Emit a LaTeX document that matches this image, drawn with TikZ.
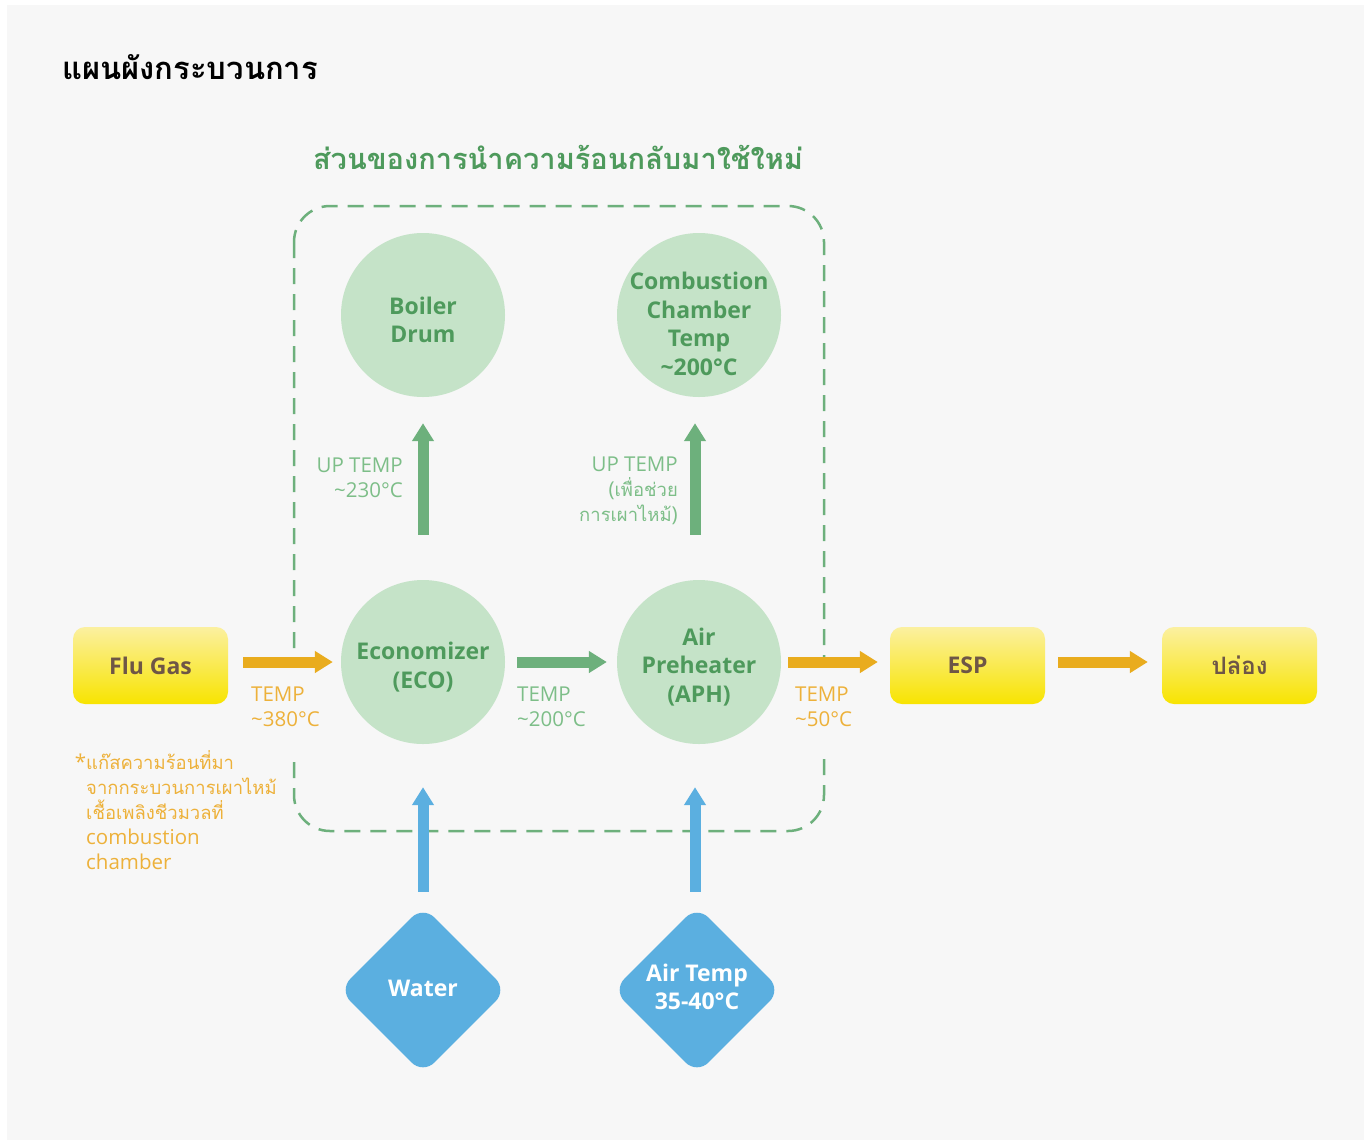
\documentclass[tikz,border=0pt]{standalone}
\usepackage{fontspec}
\setmainfont{Open Sans}
\newfontfamily\thaifont[Script=Thai]{Loma}
\newfontfamily\thaismall[Script=Thai,Scale=0.9]{Loma}
\usetikzlibrary{shapes.geometric,arrows.meta}
\definecolor{bg}{HTML}{F7F7F7}
\definecolor{gtext}{HTML}{4E9A5C}
\definecolor{glight}{HTML}{7DBE88}
\definecolor{circfill}{HTML}{C5E3C8}
\definecolor{garrow}{HTML}{6DB07C}
\definecolor{oarrowc}{HTML}{E9AC1E}
\definecolor{otext}{HTML}{EDB13A}
\definecolor{ytop}{HTML}{FBF0A0}
\definecolor{ybot}{HTML}{F8E400}
\definecolor{brownt}{HTML}{6E5646}
\definecolor{bluec}{HTML}{5BAFE0}
\begin{document}
\begin{tikzpicture}[x=1pt,y=-1pt,
  circ/.style={circle, fill=circfill, minimum size=164pt, inner sep=0pt},
  ctext/.style={text=gtext, font=\fontsize{23}{28.5}\selectfont\bfseries, align=center, inner sep=0pt},
  ybox/.style={rectangle, rounded corners=12pt, minimum width=155pt, minimum height=77pt, top color=ytop, bottom color=ybot, draw=none, text=brownt, font=\fontsize{23}{28}\selectfont\bfseries},
  dia/.style={diamond, aspect=1, fill=bluec, minimum width=168pt, minimum height=168pt, inner sep=0pt, rounded corners=16pt},
  dtext/.style={text=white, font=\fontsize{23}{28}\selectfont\bfseries, align=center, inner sep=0pt},
  thickarrow/.style={line width=11pt, -{Triangle[width=21pt,length=18pt]}},
  oarrow/.style={thickarrow, draw=oarrowc},
  garr/.style={thickarrow, draw=garrow},
  barr/.style={thickarrow, draw=bluec},
  lbl/.style={font=\fontsize{20.5}{25}\selectfont, inner sep=2pt},
  coverlbl/.style={lbl, fill=bg, inner ysep=30pt, align=left, anchor=west},
  dashbox/.style={draw=garrow, line width=2.5pt, dash pattern=on 16pt off 10pt, rounded corners=36pt}
]
\path[use as bounding box, fill=white] (0,0) rectangle (1372,1141);
\fill[bg] (7,5) rectangle (1364,1140);

% titles
\node[anchor=west, inner sep=0pt, font=\fontsize{31}{34}\selectfont\bfseries\thaifont] (title) at (62,67) {แผนผังกระบวนการ};
\node[inner sep=0pt, text=gtext, font=\fontsize{29}{34}\selectfont\bfseries\thaifont] (subtitle) at (558,157) {ส่วนของการนำความร้อนกลับมาใช้ใหม่};

% dashed region
\draw[dashbox] (294,206) rectangle (824,831);

% circles
\node[circ] (boiler) at (423,315) {};
\node[circ] (comb) at (699,315) {};
\node[circ] (eco) at (423,662) {};
\node[circ] (aph) at (699,662) {};
\node[ctext] (boilert) at ([yshift=-5pt]boiler.center) {Boiler\\Drum};
\node[ctext] (combt) at ([yshift=-9pt]comb.center) {Combustion\\Chamber\\Temp\\\textasciitilde200°C};
\node[ctext] (ecot) at ([yshift=-5pt]eco.center) {Economizer\\(ECO)};
\node[ctext] (apht) at ([yshift=-5pt]aph.center) {Air\\Preheater\\(APH)};

% yellow boxes
\node[ybox] (flu) at (150.5,665.5) {Flu Gas};
\node[ybox] (esp) at (967.5,665.5) {ESP};
\node[ybox, font=\fontsize{24}{28}\selectfont\bfseries\thaifont] (stack) at (1239.5,665.5) {ปล่อง};

% diamonds
\node[dia] (water) at (423,990) {};
\node[dia] (air) at (697,990) {};
\node[dtext] (watert) at ([yshift=2pt]water.center) {Water};
\node[dtext] (airt) at ([yshift=3pt]air.center) {Air Temp\\35-40°C};

% labels
\node[lbl, text=glight, align=right, anchor=east] (up1) at (405,478) {UP TEMP\\\textasciitilde230°C};
\node[lbl, text=glight, align=right, anchor=east] (up2) at (680,491) {UP TEMP\\({\thaismall เพื่อช่วย}\\{\thaismall การเผาไหม้})};
\node[coverlbl, text=otext] (t1) at (249,707) {TEMP\\\textasciitilde380°C};
\node[lbl, text=glight, align=left, anchor=west] (t2) at (515,707) {TEMP\\\textasciitilde200°C};
\node[coverlbl, text=otext] (t3) at (793,707) {TEMP\\\textasciitilde50°C};
\node[lbl, text=otext, align=left, anchor=west] (note) at (84,810) {\llap{*}{\thaismall แก๊สความร้อนที่มา}\\{\thaismall จากกระบวนการเผาไหม้}\\{\thaismall เชื้อเพลิงชีวมวลที่}\\combustion\\chamber};

% arrows
\draw[oarrow, shorten <=15pt, shorten >=8pt] (flu.east |- eco.center) -- (eco.west);
\draw[garr, shorten <=12pt, shorten >=10pt] (eco.east) -- (aph.west);
\draw[oarrow, shorten <=7pt, shorten >=12pt] (aph.east) -- (esp.west |- aph.center);
\draw[oarrow, shorten <=13pt, shorten >=14pt] ([yshift=3.5pt]esp.east) -- ([yshift=3.5pt]stack.west);
\draw[garr, shorten <=45pt, shorten >=26pt] (eco.north) -- (boiler.south);
\draw[garr, shorten <=45pt, shorten >=26pt] ([xshift=-4pt]aph.north) -- ([xshift=-4pt]comb.south);
\draw[barr, shorten <=14pt, shorten >=43pt] (water.north) -- (eco.south);
\draw[barr, shorten <=14pt, shorten >=43pt] ([xshift=-2pt]air.north) -- ([xshift=-2pt]air.north |- aph.south);
\end{tikzpicture}
\end{document}
